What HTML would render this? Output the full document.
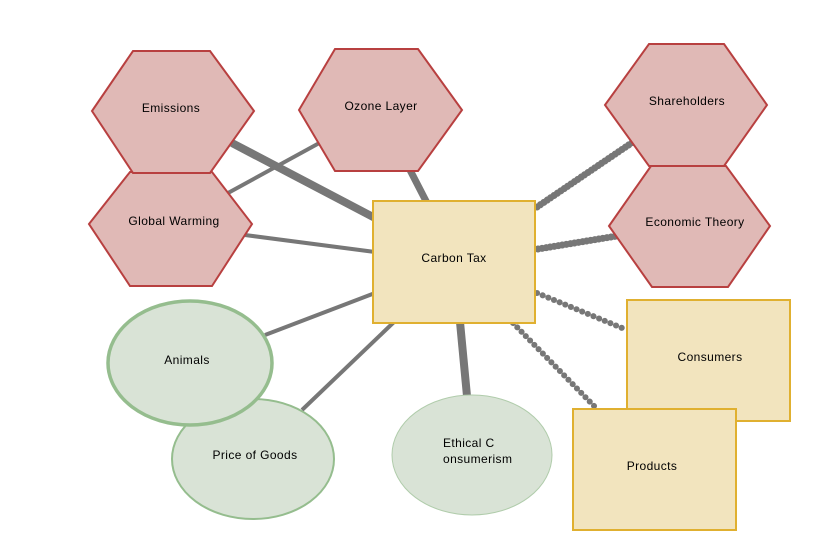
<!DOCTYPE html>
<html><head><style>
html,body{margin:0;padding:0;background:#fff;}
svg{display:block;}
text{font-family:"Liberation Sans",sans-serif;font-size:12px;fill:#000;letter-spacing:0.4px;}
</style></head><body>
<svg width="817" height="533" viewBox="0 0 817 533" xmlns="http://www.w3.org/2000/svg">
<g stroke="#777" fill="none" stroke-linecap="butt">
<line x1="232" y1="143" x2="375" y2="218" stroke-width="8"/>
<line x1="410" y1="170" x2="427" y2="203" stroke-width="7"/>
<line x1="228" y1="193" x2="323" y2="141" stroke-width="4"/>
<line x1="245" y1="235" x2="375" y2="252" stroke-width="4"/>
<line x1="265" y1="335" x2="375" y2="293" stroke-width="4"/>
<line x1="302" y1="410" x2="394" y2="322" stroke-width="4"/>
<line x1="460" y1="322" x2="467" y2="396" stroke-width="8"/>
<g stroke-dasharray="0.1 4" stroke-linecap="round">
<line x1="537" y1="207" x2="633" y2="142" stroke-width="7"/>
<line x1="538" y1="249" x2="617" y2="236" stroke-width="7"/>
</g>
<g stroke-dasharray="0.1 6" stroke-linecap="round">
<line x1="537" y1="293" x2="627" y2="330" stroke-width="6"/>
<line x1="513" y1="323" x2="596" y2="408" stroke-width="6"/>
</g>
</g>
<g fill="#e0b9b6" stroke="#b84040" stroke-width="2">
<polygon points="89,224 130,172 212,172 252,224 212,286 130,286"/>
<polygon points="92,111 133,51 210,51 254,111 210,173 133,173"/>
<polygon points="299,110 335,49 418,49 462,110 418,171 335,171"/>
<polygon points="609,226 651,166 726,166 770,226 728,287 652,287"/>
<polygon points="605,105 649,44 724,44 767,105 724,166 649,166"/>
</g>
<rect x="373" y="201" width="162" height="122" fill="#f2e4be" stroke="#e0b030" stroke-width="2"/>
<rect x="627" y="300" width="163" height="121" fill="#f2e4be" stroke="#e0b030" stroke-width="2"/>
<rect x="573" y="409" width="163" height="121" fill="#f2e4be" stroke="#e0b030" stroke-width="2"/>
<ellipse cx="253" cy="459" rx="81" ry="60" fill="#d9e3d6" stroke="#95bd8e" stroke-width="2"/>
<ellipse cx="190" cy="363" rx="82" ry="62" fill="#d9e3d6" stroke="#95bd8e" stroke-width="3.5"/>
<ellipse cx="472" cy="455" rx="80" ry="60" fill="#d9e3d6" stroke="#b0ccab" stroke-width="1"/>
<text x="171" y="112" text-anchor="middle">Emissions</text>
<text x="174" y="225" text-anchor="middle">Global Warming</text>
<text x="381" y="110" text-anchor="middle">Ozone Layer</text>
<text x="687" y="105" text-anchor="middle">Shareholders</text>
<text x="695" y="226" text-anchor="middle">Economic Theory</text>
<text x="454" y="262" text-anchor="middle">Carbon Tax</text>
<text x="710" y="361" text-anchor="middle">Consumers</text>
<text x="652" y="470" text-anchor="middle">Products</text>
<text x="187" y="364" text-anchor="middle">Animals</text>
<text x="255" y="459" text-anchor="middle">Price of Goods</text>
<text x="443" y="447">Ethical C</text>
<text x="443" y="463">onsumerism</text>
</svg>
</body></html>
